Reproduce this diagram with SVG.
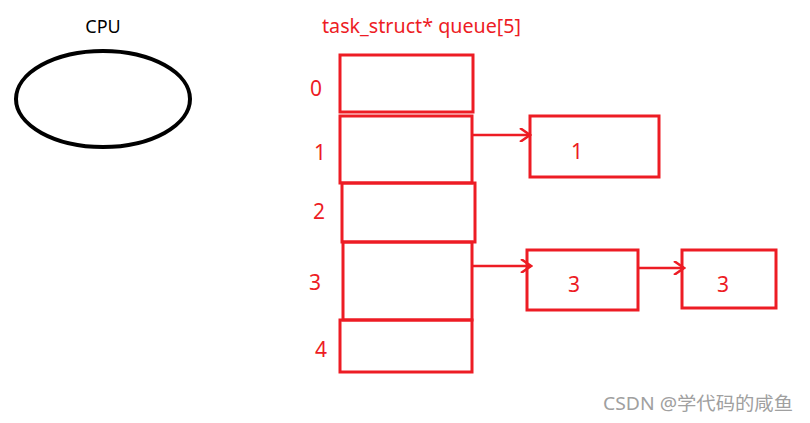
<svg xmlns="http://www.w3.org/2000/svg" width="810" height="423" viewBox="0 0 810 423">
<style>
.r{fill:none;stroke:#ed1c24;stroke-width:3}
.t{font-family:"Noto Sans","Open Sans",sans-serif;fill:#ed1c24;font-size:21px;text-anchor:middle}
.c{fill:none;stroke:#ed1c24;stroke-width:2.5}
</style>
<defs>
<marker id="a" markerWidth="14" markerHeight="14" refX="12" refY="7" orient="auto" markerUnits="userSpaceOnUse">
<path d="M2,0 L12,7 L2,14" fill="none" stroke="#ed1c24" stroke-width="2.5"/>
</marker>
</defs>
<rect width="810" height="423" fill="#fff"/>
<g id="cpu">
<ellipse cx="103" cy="99" rx="87" ry="48" fill="none" stroke="#000" stroke-width="4"/>
<text x="103" y="33" font-family="Noto Sans,Open Sans,sans-serif" font-size="18" text-anchor="middle" fill="#000">CPU</text>
</g>
<g id="queue">
<text x="322" y="33" font-family="Noto Sans,Open Sans,sans-serif" font-size="19" textLength="199" lengthAdjust="spacingAndGlyphs" fill="#ed1c24">task_struct* queue[5]</text>
<rect class="r" x="340" y="55" width="133" height="57"/>
<rect class="r" x="340" y="116" width="132" height="67"/>
<rect class="r" x="342" y="183" width="133" height="59"/>
<rect class="r" x="343" y="242" width="129" height="78"/>
<rect class="r" x="340" y="320" width="132" height="52"/>
<text class="t" x="316" y="96">0</text>
<text class="t" x="320" y="160">1</text>
<text class="t" x="319" y="219">2</text>
<text class="t" x="315" y="290">3</text>
<text class="t" x="321" y="357">4</text>
</g>
<g id="node1">
<rect class="r" x="530" y="116" width="129" height="61"/>
<text class="t" x="577" y="159">1</text>
</g>
<g id="node3a">
<rect class="r" x="527" y="250" width="111" height="60"/>
<text class="t" x="574" y="292">3</text>
</g>
<g id="node3b">
<rect class="r" x="682" y="250" width="94" height="58"/>
<text class="t" x="723" y="292">3</text>
</g>
<g id="connectors">
<line class="c" x1="473" y1="135" x2="530" y2="135" marker-end="url(#a)"/>
<line class="c" x1="473" y1="266" x2="531" y2="266" marker-end="url(#a)"/>
<line class="c" x1="638" y1="268" x2="684" y2="268" marker-end="url(#a)"/>
</g>
<text x="603" y="410" font-family="Noto Sans,Noto Sans CJK SC,sans-serif" font-size="18" textLength="190" lengthAdjust="spacingAndGlyphs" fill="#a0a0a0">CSDN @学代码的咸鱼</text>
</svg>
